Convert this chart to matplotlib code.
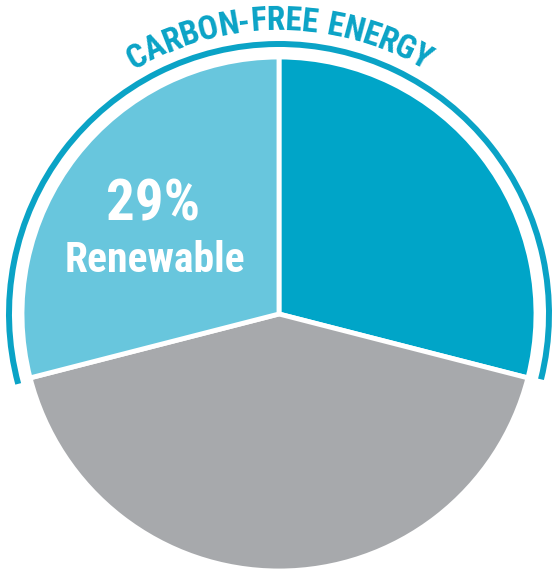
import matplotlib.pyplot as plt
from matplotlib import font_manager as fm
from matplotlib.patches import Arc
import numpy as np

labels = ['Carbon-free other', 'Fossil', 'Renewable']
shares = [29, 42, 29]
colors = ['#00A5C8', '#A7A9AC', '#68C6DD']
title = 'CARBON-FREE ENERGY'
teal = '#0AA3C6'

installed = set(f.name for f in fm.fontManager.ttflist)
narrow = 'Roboto Condensed' if 'Roboto Condensed' in installed else 'PT Sans Narrow'
font = [narrow, 'DejaVu Sans']

fig = plt.figure(figsize=(5.58, 5.72), dpi=100)
ax = fig.add_axes([0, 0, 1, 1])
ax.set_aspect('equal')
ax.axis('off')

cx, cy = 279, 258
ax.pie(shares, colors=colors, center=(cx, cy), radius=257, startangle=90,
       counterclock=False, wedgeprops=dict(edgecolor='white', linewidth=3.5))
ax.set_xlim(0, 558)
ax.set_ylim(0, 572)

# outer bracket arc
ax.add_patch(Arc((cx, cy), 2 * 270, 2 * 270, theta1=-14, theta2=195,
                 color=teal, linewidth=4.3))

# curved title
r_txt = 293
fig.canvas.draw()
renderer = fig.canvas.get_renderer()
widths = []
for ch in title:
    t = ax.text(0, 0, ch if ch != ' ' else 'n', fontsize=24, fontweight='bold', family=font)
    bb = t.get_window_extent(renderer)
    widths.append(bb.width * (0.6 if ch == ' ' else 1.0))
    t.remove()
total = sum(widths)
ang = 90 + np.degrees(total / 2 / r_txt)
for ch, w in zip(title, widths):
    a = ang - np.degrees(w / 2 / r_txt)
    x = cx + r_txt * np.cos(np.radians(a))
    y = cy + r_txt * np.sin(np.radians(a))
    ax.text(x, y, ch, fontsize=24, fontweight='bold', family=font, color=teal,
            rotation=a - 90, rotation_mode='anchor', ha='center', va='center')
    ang -= np.degrees(w / r_txt)

ax.text(153, 367, '29%', fontsize=41, fontweight='bold', family=font,
        color='white', ha='center', va='center')
ax.text(155, 311, 'Renewable', fontsize=30, fontweight='bold', family=font,
        color='white', ha='center', va='center')

fig.savefig('out.png', dpi=100)
